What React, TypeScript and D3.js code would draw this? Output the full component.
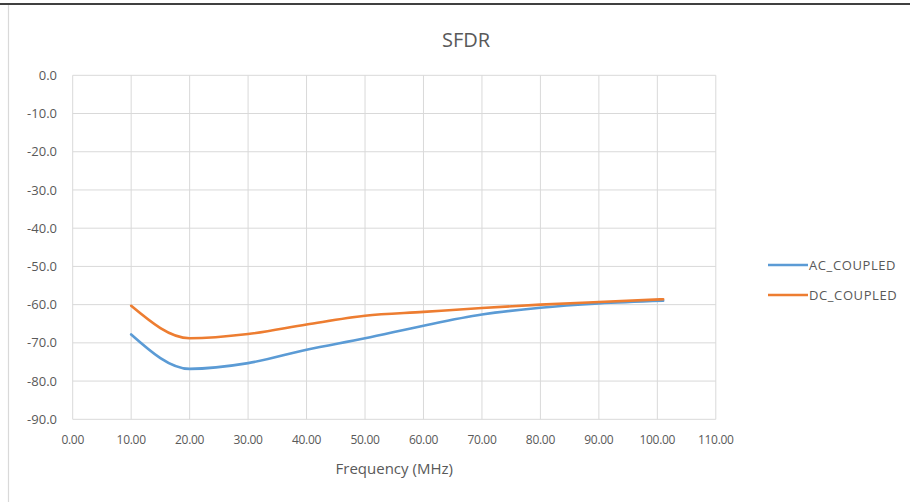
import React from "react";
import * as d3 from "d3";

const freqs = [10, 20, 30, 40, 50, 60, 70, 80, 90, 101];
const acCoupled = [-67.8, -76.8, -75.3, -71.8, -68.8, -65.5, -62.6, -60.8, -59.7, -59.0];
const dcCoupled = [-60.3, -68.8, -67.7, -65.2, -62.9, -61.9, -60.9, -60.0, -59.3, -58.6];
const xTicks = [0, 10, 20, 30, 40, 50, 60, 70, 80, 90, 100, 110];
const yTicks = [0, -10, -20, -30, -40, -50, -60, -70, -80, -90];
const seriesNames = ["AC_COUPLED", "DC_COUPLED"];
const seriesColors = ["#5b9bd5", "#ed7d31"];

const W = 910;
const H = 502;
const FONT = "'Open Sans', 'Liberation Sans', sans-serif";
const TEXT = "#595959";

export default function App() {
  const x = d3.scaleLinear().domain([0, 110]).range([72.7, 715.8]);
  const y = d3.scaleLinear().domain([0, -90]).range([75.3, 419.3]);
  const line = d3
    .line<[number, number]>()
    .x((d) => x(d[0]))
    .y((d) => y(d[1]))
    .curve(d3.curveMonotoneX);
  const series = [acCoupled, dcCoupled].map((vals) =>
    freqs.map((f, i) => [f, vals[i]] as [number, number])
  );
  const [x0, x1] = x.range();
  const [y0, y1] = y.range();

  return (
    <div style={{ position: "fixed", left: 0, top: 0 }}>
      <svg width={W} height={H} style={{ display: "block", background: "#fff" }}>
        <rect x={0} y={0} width={W} height={H} fill="#fff" />
        <line x1={0} x2={W} y1={4} y2={4} stroke="#000" strokeWidth={1.6} />
        <line x1={8.5} x2={8.5} y1={5} y2={H} stroke="#d9d9d9" strokeWidth={1.2} />
        <text x={466} y={47} textAnchor="middle" fontFamily={FONT} fontSize={20} fill={TEXT}>
          SFDR
        </text>
        {yTicks.map((t) => (
          <line key={"gy" + t} x1={x0} x2={x1} y1={y(t)} y2={y(t)} stroke="#d9d9d9" strokeWidth={1} />
        ))}
        {xTicks.map((t) => (
          <line key={"gx" + t} x1={x(t)} x2={x(t)} y1={y0} y2={y1} stroke="#d9d9d9" strokeWidth={1} />
        ))}
        {yTicks.map((t) => (
          <text
            key={"ty" + t}
            x={57}
            y={y(t)}
            dy="0.35em"
            textAnchor="end"
            fontFamily={FONT}
            fontSize={13}
            fill={TEXT}
          >
            {t.toFixed(1)}
          </text>
        ))}
        {xTicks.map((t) => (
          <text
            key={"tx" + t}
            x={x(t)}
            y={y1 + 25}
            textAnchor="middle"
            fontFamily={FONT}
            fontSize={12}
            letterSpacing={-0.3}
            fill={TEXT}
          >
            {t.toFixed(2)}
          </text>
        ))}
        <text
          x={(x0 + x1) / 2}
          y={474}
          textAnchor="middle"
          fontFamily={FONT}
          fontSize={15}
          fill={TEXT}
        >
          Frequency (MHz)
        </text>
        {series.map((pts, i) => (
          <path
            key={"s" + i}
            d={line(pts) || ""}
            fill="none"
            stroke={seriesColors[i]}
            strokeWidth={2.6}
            strokeLinecap="round"
          />
        ))}
        {seriesNames.map((n, i) => (
          <g key={"lg" + i} transform={`translate(768,${265 + i * 30})`}>
            <line x1={0} x2={40} y1={0} y2={0} stroke={seriesColors[i]} strokeWidth={2.6} />
            <text x={41} y={0} dy="0.35em" fontFamily={FONT} fontSize={13} letterSpacing={0.6} fill={TEXT}>
              {n}
            </text>
          </g>
        ))}
      </svg>
    </div>
  );
}
